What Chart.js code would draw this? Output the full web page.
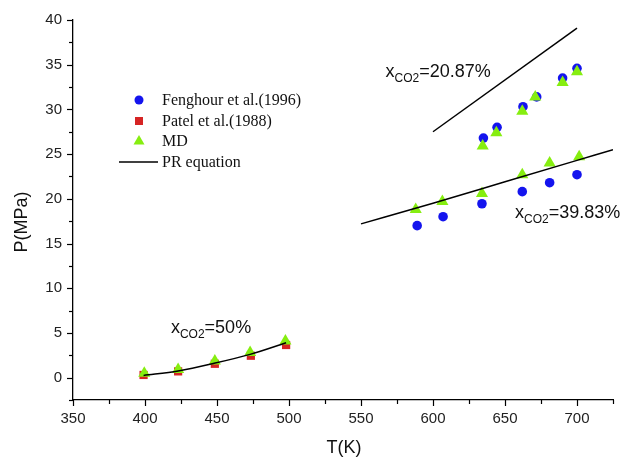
<!DOCTYPE html>
<html>
<head>
<meta charset="utf-8">
<script src="https://cdn.jsdelivr.net/npm/chart.js@4"></script>
<style>
  html, body { margin: 0; padding: 0; background: #fff; }
  #wrap { width: 621px; height: 458px; }
</style>
</head>
<body>
<div id="wrap"><canvas id="chart" width="621" height="458"></canvas></div>
<script>
// Messwerte Fenghour et al. (1996)
const tempFenghour = [589, 607, 634, 662, 681, 700, 635, 644.5, 662.5, 672, 690, 700];
const presFenghour = [17.0, 18.0, 19.45, 20.8, 21.8, 22.7, 26.8, 28.0, 30.3, 31.4, 33.5, 34.6];

// Messwerte Patel et al. (1988)
const tempPatel = [399, 423, 448.5, 473.5, 498];
const presPatel = [0.3, 0.7, 1.55, 2.45, 3.65];

// MD-Simulation
const tempMD = [399.5, 423, 448.5, 473, 497.5, 588, 606.5, 634, 662, 681, 701.5, 634.5, 644, 662, 671, 690, 700];
const presMD = [0.5, 0.9, 1.85, 2.8, 4.1, 18.8, 19.7, 20.6, 22.7, 24.0, 24.7, 25.9, 27.4, 29.8, 31.4, 33.0, 34.2];

// PR-Gleichung, drei Zusammensetzungen
const prTemp50 = [399, 423, 448, 473, 498];
const prPres50 = [0.25, 0.75, 1.6, 2.6, 3.9];
const prTemp2087 = [600, 700];
const prPres2087 = [27.5, 39.1];
const prTemp3983 = [550, 600, 650, 700, 725];
const prPres3983 = [17.2, 19.5, 21.9, 24.3, 25.5];

// Achsen
const xTicks = [350, 400, 450, 500, 550, 600, 650, 700];
const yTicks = [0, 5, 10, 15, 20, 25, 30, 35, 40];

const legendLabels = ['Fenghour et al.(1996)', 'Patel et al.(1988)', 'MD', 'PR equation'];
const annotations = [
    { t: 567, p: 33.6, sub: 'CO2', rest: '=20.87%' },
    { t: 657, p: 17.9, sub: 'CO2', rest: '=39.83%' },
    { t: 418, p: 5.0, sub: 'CO2', rest: '=50%' }
];

const BLUE = '#1414ee';
const RED = '#d62424';
const GREEN = '#86ee10';

function pts(xs, ys) {
    return xs.map((x, i) => ({ x: x, y: ys[i] }));
}

function prLine(xs, ys) {
    return {
        type: 'line',
        data: pts(xs, ys),
        borderColor: '#000',
        borderWidth: 1.5,
        pointRadius: 0,
        fill: false,
        tension: 0.4,
        cubicInterpolationMode: 'monotone',
        order: 1
    };
}

// Eigene Zeichnungen: Striche, Titel, Legende, Beschriftungen
const extras = {
    id: 'extras',
    afterDraw(chart) {
        const ctx = chart.ctx;
        const xs = chart.scales.x;
        const ys = chart.scales.y;
        const area = chart.chartArea;
        ctx.save();
        ctx.strokeStyle = '#000';
        ctx.lineWidth = 1.2;

        // x-Striche (Haupt- und Nebenstriche)
        for (let v = 350; v <= 725; v += 25) {
            const px = Math.round(xs.getPixelForValue(v)) + 0.5;
            const len = (v % 50 === 0) ? 6 : 4;
            ctx.beginPath();
            ctx.moveTo(px, area.bottom);
            ctx.lineTo(px, area.bottom + len);
            ctx.stroke();
        }
        // y-Striche
        for (let v = -2.5; v <= 40; v += 2.5) {
            const py = Math.round(ys.getPixelForValue(v)) + 0.5;
            const len = (v % 5 === 0) ? 6 : 4;
            ctx.beginPath();
            ctx.moveTo(area.left, py);
            ctx.lineTo(area.left - len, py);
            ctx.stroke();
        }

        // Achsentitel
        ctx.fillStyle = '#111';
        ctx.font = '18px "Liberation Sans", Arial, sans-serif';
        ctx.textAlign = 'center';
        ctx.textBaseline = 'middle';
        ctx.fillText('T(K)', 344, 448);
        ctx.save();
        ctx.translate(22, 222);
        ctx.rotate(-Math.PI / 2);
        ctx.fillText('P(MPa)', 0, 0);
        ctx.restore();

        // Beschriftungen x_CO2
        ctx.textAlign = 'left';
        ctx.textBaseline = 'alphabetic';
        annotations.forEach(a => {
            let x = xs.getPixelForValue(a.t);
            const y = ys.getPixelForValue(a.p);
            ctx.font = '18px "Liberation Sans", Arial, sans-serif';
            ctx.fillText('x', x, y);
            x += ctx.measureText('x').width;
            ctx.font = '12px "Liberation Sans", Arial, sans-serif';
            ctx.fillText(a.sub, x, y + 5);
            x += ctx.measureText(a.sub).width;
            ctx.font = '18px "Liberation Sans", Arial, sans-serif';
            ctx.fillText(a.rest, x, y);
        });

        // Legende
        const lx = 139;
        const rows = [100, 121, 141, 162];
        ctx.fillStyle = BLUE;
        ctx.beginPath();
        ctx.arc(lx, rows[0], 4.5, 0, Math.PI * 2);
        ctx.fill();
        ctx.fillStyle = RED;
        ctx.fillRect(lx - 4, rows[1] - 4, 8, 8);
        ctx.fillStyle = GREEN;
        ctx.beginPath();
        ctx.moveTo(lx, rows[2] - 6);
        ctx.lineTo(lx + 5.5, rows[2] + 3.5);
        ctx.lineTo(lx - 5.5, rows[2] + 3.5);
        ctx.closePath();
        ctx.fill();
        ctx.strokeStyle = '#000';
        ctx.lineWidth = 1.5;
        ctx.beginPath();
        ctx.moveTo(119, rows[3]);
        ctx.lineTo(158, rows[3]);
        ctx.stroke();

        ctx.fillStyle = '#111';
        ctx.font = '16px "Liberation Serif", "Times New Roman", serif';
        ctx.textBaseline = 'middle';
        legendLabels.forEach((txt, i) => {
            ctx.fillText(txt, 162, rows[i] + 1);
        });
        ctx.restore();
    }
};

const ctx = document.getElementById('chart').getContext('2d');
const chart = new Chart(ctx, {
    type: 'scatter',
    data: {
        datasets: [
            prLine(prTemp50, prPres50),
            prLine(prTemp2087, prPres2087),
            prLine(prTemp3983, prPres3983),
            {
                label: legendLabels[2],
                data: pts(tempMD, presMD),
                pointStyle: 'triangle',
                pointRadius: 7,
                backgroundColor: GREEN,
                borderWidth: 0,
                order: 2
            },
            {
                label: legendLabels[0],
                data: pts(tempFenghour, presFenghour),
                pointStyle: 'circle',
                pointRadius: 4.8,
                backgroundColor: BLUE,
                borderWidth: 0,
                order: 3
            },
            {
                label: legendLabels[1],
                data: pts(tempPatel, presPatel),
                pointStyle: 'rect',
                pointRadius: 5.8,
                backgroundColor: RED,
                borderWidth: 0,
                order: 3
            }
        ]
    },
    options: {
        responsive: false,
        animation: false,
        layout: { padding: { top: 20, right: 8, left: 0, bottom: 0 } },
        plugins: {
            legend: { display: false },
            tooltip: { enabled: false }
        },
        scales: {
            x: {
                type: 'linear',
                min: 350,
                max: 725,
                afterBuildTicks: s => { s.ticks = xTicks.map(v => ({ value: v })); },
                afterFit: s => { s.height = 58; },
                grid: { display: false, drawTicks: false },
                border: { display: true, color: '#000', width: 1.3 },
                ticks: {
                    padding: 10,
                    color: '#222',
                    font: { family: '"Liberation Sans", Arial, sans-serif', size: 15 },
                    maxRotation: 0
                }
            },
            y: {
                type: 'linear',
                min: -2.5,
                max: 40,
                afterBuildTicks: s => { s.ticks = yTicks.map(v => ({ value: v })); },
                afterFit: s => { s.width = 73; },
                grid: { display: false, drawTicks: false },
                border: { display: true, color: '#000', width: 1.3 },
                ticks: {
                    padding: 11,
                    color: '#222',
                    font: { family: '"Liberation Sans", Arial, sans-serif', size: 15 }
                }
            }
        }
    },
    plugins: [extras]
});
</script>
</body>
</html>
